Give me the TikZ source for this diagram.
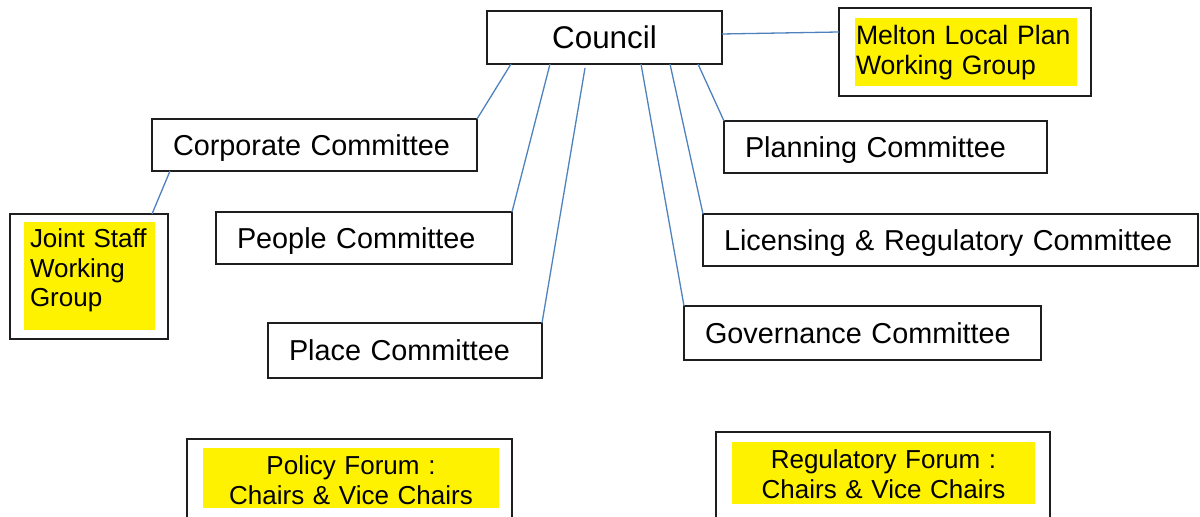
\documentclass[tikz,border=0pt]{standalone}
\usepackage{fontspec}
\setmainfont{Liberation Sans}
\definecolor{linkblue}{RGB}{79,129,189}
\definecolor{boxline}{RGB}{30,30,30}
\begin{document}
\begin{tikzpicture}[x=0.5pt,y=-0.5pt,
  cbox/.style={draw=boxline, line width=1pt, anchor=north west, inner ysep=0pt, inner xsep=10.5pt,
    outer sep=0pt, align=left, font=\fontsize{14.4}{17}\selectfont, text height=10.3pt, text depth=0pt},
  obox/.style={draw=boxline, line width=1pt, anchor=north west, outer sep=0pt, inner sep=0pt},
  ybox/.style={fill=yellow, anchor=north west, inner ysep=0pt, outer sep=0pt},
  link/.style={draw=linkblue, line width=0.65pt}]
\useasboundingbox (0,0) rectangle (1200,517);
\clip (0,0) rectangle (1200,517);

% Council
\node[draw=boxline, line width=1pt, outer sep=0pt, inner sep=0pt, minimum width=117.5pt, minimum height=26.5pt,
  font=\fontsize{15.7}{18}\selectfont, text height=11.2pt, text depth=0pt] (council) at (604.5,37.5) {Council};

% committees
\node[cbox, text width=141.5pt, minimum height=26pt] (corp) at (152,119) {Corporate Committee};
\node[cbox, text width=127pt, minimum height=26pt] (people) at (216,212) {People Committee};
\node[cbox, text width=116pt, minimum height=27.5pt] (place) at (268,323) {Place Committee};
\node[cbox, text width=140.5pt, minimum height=26pt] (plan) at (724,121) {Planning Committee};
\node[cbox, text width=226.5pt, minimum height=26pt] (lic) at (703,214) {Licensing \& Regulatory Committee};
\node[cbox, text width=157.5pt, minimum height=27pt] (gov) at (684,306) {Governance Committee};

% Melton Local Plan Working Group
\node[obox, minimum width=126pt, minimum height=44pt] (melton) at (839,8) {};
\node[ybox, inner xsep=0.5pt, text width=110pt, align=left, text height=13.5pt, text depth=20.5pt,
  font=\fontsize{13.3}{15}\selectfont] (meltonY) at (855,18) {Melton Local Plan\\Working Group};

% Joint Staff Working Group
\node[obox, minimum width=79pt, minimum height=62.5pt] (joint) at (10,214) {};
\node[ybox, inner xsep=3pt, text width=59.5pt, align=left, text height=13pt, text depth=41pt,
  font=\fontsize{13}{14.75}\selectfont] (jointY) at (24,222) {Joint Staff\\Working\\Group};

% Policy Forum
\node[obox, minimum width=162.5pt, minimum height=50pt] (policy) at (187,439) {};
\node[ybox, inner xsep=1pt, text width=146pt, align=center, text height=13.5pt, text depth=16.5pt,
  font=\fontsize{13}{15}\selectfont] (policyY) at (203,448) {Policy Forum :\\Chairs \& Vice Chairs};

% Regulatory Forum
\node[obox, minimum width=167pt, minimum height=50pt] (reg) at (716,432) {};
\node[ybox, inner xsep=1pt, text width=149.5pt, align=center, text height=13.5pt, text depth=17.5pt,
  font=\fontsize{13}{15}\selectfont] (regY) at (732,442) {Regulatory Forum :\\Chairs \& Vice Chairs};

% connectors
\draw[link] ([xshift=12pt]council.south west) -- (corp.north east);
\draw[link] ([xshift=31.5pt]council.south west) -- (people.north east);
\draw[link] ([xshift=49pt,yshift=-2pt]council.south west) -- (place.north east);
\draw[link] ([xshift=77pt]council.south west) -- (gov.north west);
\draw[link] ([xshift=91.5pt]council.south west) -- (lic.north west);
\draw[link] ([xshift=105.5pt]council.south west) -- (plan.north west);
\draw[link] ([yshift=1.75pt]council.east) -- ([yshift=10pt]melton.west);
\draw[link] ([xshift=9pt]corp.south west) -- ([xshift=71pt]joint.north west);
\end{tikzpicture}
\end{document}
